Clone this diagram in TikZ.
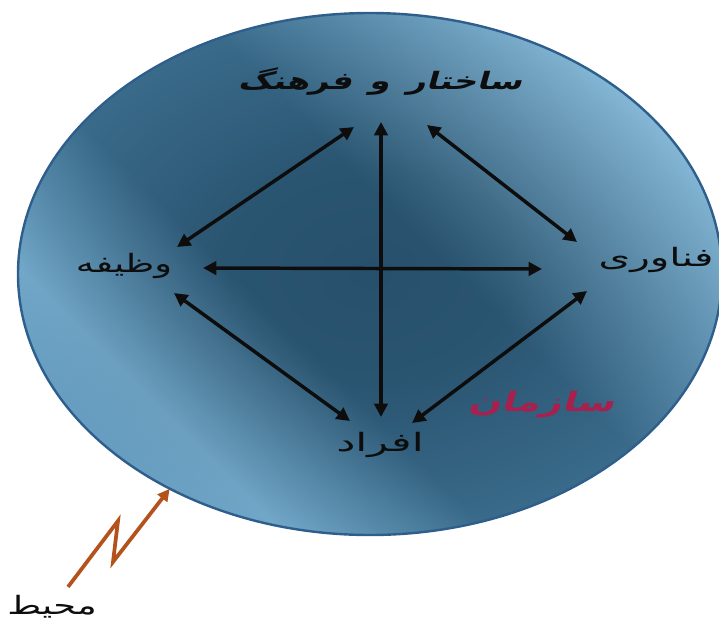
\documentclass[tikz,border=0pt]{standalone}
\usepackage{fontspec}
\usepackage{graphicx}
\usepackage{tikz}
\usetikzlibrary{shapes.geometric, arrows.meta, positioning, calc}
\TeXXeTstate=1
\newfontfamily\arabicfont[Script=Arabic]{DejaVu Sans}
\newfontfamily\arabichead[Script=Arabic, FakeSlant=0.2, BoldFeatures={FakeSlant=0.2}]{DejaVu Sans}
\definecolor{OrgCore}   {HTML}{234B66}
\definecolor{OrgDark}   {HTML}{2A5571}
\definecolor{OrgRim}    {HTML}{4E86AA}
\definecolor{OrgLight}  {HTML}{B0DEF8}
\definecolor{OrgPale}   {HTML}{8FC3E2}
\definecolor{OrgMid}    {HTML}{7DB2D4}
\definecolor{OrgEdge}   {HTML}{2E5E8C}
\definecolor{OrgRed}    {HTML}{A8204E}
\definecolor{EnvOrange} {HTML}{B4521C}
\definecolor{ArrowInk}  {HTML}{0D0D0D}
\pgfdeclareradialshading{orgcore}{\pgfpoint{0bp}{0bp}}{%
  color(0bp)=(OrgCore); color(10bp)=(OrgDark);
  color(25bp)=(OrgRim); color(50bp)=(OrgRim)}
\pgfdeclarehorizontalshading{orgsweep}{100bp}{%
  color(0bp)=(OrgMid); color(25bp)=(OrgMid); color(30bp)=(OrgPale);
  color(42bp)=(OrgDark); color(55bp)=(OrgDark);
  color(75bp)=(OrgLight); color(100bp)=(OrgLight)}
\newcommand{\fa}[2][1.45]{\scalebox{#1}[1]{\beginR#2\endR}}

\begin{document}
\begin{tikzpicture}[
		x=0.75pt, y=-0.75pt,
		org/.style={ellipse, shade, shading=orgcore,
			minimum width=528pt, minimum height=391.5pt, inner sep=0pt},
		orgskin/.style={shade, shading=orgsweep, shading angle=45, fill opacity=0.55,
			draw=OrgEdge, draw opacity=1, line width=1.8pt},
		lbl/.style={font=\arabicfont\fontsize{19}{22}\selectfont, text=ArrowInk, inner sep=1pt},
		head/.style={lbl, font=\arabichead\bfseries\fontsize{18}{22}\selectfont},
		orgname/.style={lbl, font=\arabichead\bfseries\fontsize{20}{23}\selectfont, text=OrgRed},
		dbl/.style={{Triangle[length=10pt,width=10pt]}-{Triangle[length=10pt,width=10pt]},
			line width=2.6pt, ArrowInk},
		zig/.style={-{Triangle[length=9pt,width=9pt]}, line width=2.8pt, EnvOrange},
		]
		\useasboundingbox (0,0) rectangle (719,626);
		% ── Organisation ellipse ─────────────────────────────────────────────────────
		\node[org]     (orgell)  at (370,274) {};
		\path[orgskin] (orgell.center) ellipse [x radius=264pt, y radius=195.75pt];
		% ── Four elements ────────────────────────────────────────────────────────────
		\node[head]    (struct)  at (380,82)  {\fa[1.4]{ساختار\enspace و\enspace فرهنگ}};
		\node[lbl]     (task)    at (124,266) {\fa{وظیفه}};
		\node[lbl]     (tech)    at (656,260) {\fa[1.6]{فناوری}};
		\node[lbl]     (people)  at (380,445) {\fa[1.7]{افراد}};
		\node[orgname] (orgtext) at (541,405) {\fa{سازمان}};
		\node[lbl]     (env)     at (52,607)  {\fa{محیط}};
		% ── Two-way links ────────────────────────────────────────────────────────────
		\draw[dbl] ($(struct)+(-26,45)$) -- ($(task)+(53,-19)$);
		\draw[dbl] ($(struct)+(1,40)$)   -- ($(people)+(1,-28)$);
		\draw[dbl] ($(struct)+(47,43)$)  -- ($(tech)+(-79,-18)$);
		\draw[dbl] ($(task)+(79,2)$)     -- ($(tech)+(-114,9)$);
		\draw[dbl] ($(task)+(50,27)$)    -- ($(people)+(-30,-24)$);
		\draw[dbl] ($(tech)+(-69,31)$)   -- ($(people)+(32,-22)$);
		% Environment acting on the organisation
		\draw[zig] ($(env.north)+(16,-7)$) -- ++(50,-66) -- ++(-5,41) -- (orgell.227);
	\end{tikzpicture}
\end{document}
